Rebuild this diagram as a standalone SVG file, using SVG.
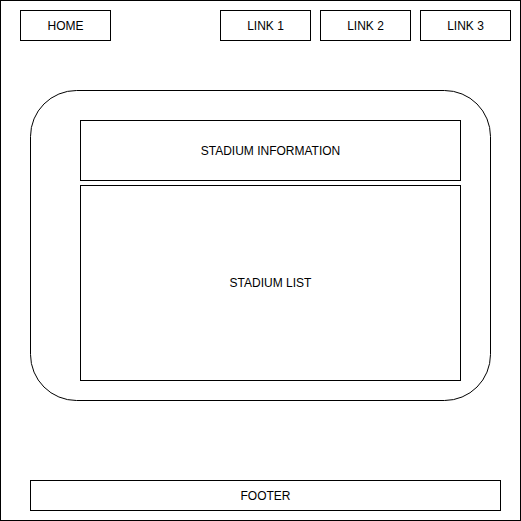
<svg xmlns="http://www.w3.org/2000/svg" width="521" height="521" viewBox="0 0 521 521">
<style>
.b{fill:#fff;stroke:#000;stroke-width:1}
.t{font-family:"Liberation Sans",Arial,sans-serif;font-size:12px;fill:#000;text-anchor:middle;dominant-baseline:central}
</style>
<rect width="521" height="521" fill="#fff"/>
<g id="frame"><rect class="b" x="0.5" y="0.5" width="520" height="520"/></g>
<g id="home"><rect class="b" x="20.5" y="10.5" width="90" height="30"/><text class="t" x="65.5" y="25.5">HOME</text></g>
<g id="link1"><rect class="b" x="220.5" y="10.5" width="90" height="30"/><text class="t" x="265.5" y="25.5">LINK 1</text></g>
<g id="link2"><rect class="b" x="320.5" y="10.5" width="90" height="30"/><text class="t" x="365.5" y="25.5">LINK 2</text></g>
<g id="link3"><rect class="b" x="420.5" y="10.5" width="90" height="30"/><text class="t" x="465.5" y="25.5">LINK 3</text></g>
<g id="container"><rect class="b" x="30.5" y="90.5" width="460" height="310" rx="46" ry="46"/></g>
<g id="info"><rect class="b" x="80.5" y="120.5" width="380" height="60"/><text class="t" x="270.5" y="150.5">STADIUM INFORMATION</text></g>
<g id="list"><rect class="b" x="80.5" y="185.5" width="380" height="195"/><text class="t" x="270.5" y="283">STADIUM LIST</text></g>
<g id="footer"><rect class="b" x="30.5" y="480.5" width="470" height="30"/><text class="t" x="265.5" y="495.5">FOOTER</text></g>
<g id="connectors"/>
</svg>
